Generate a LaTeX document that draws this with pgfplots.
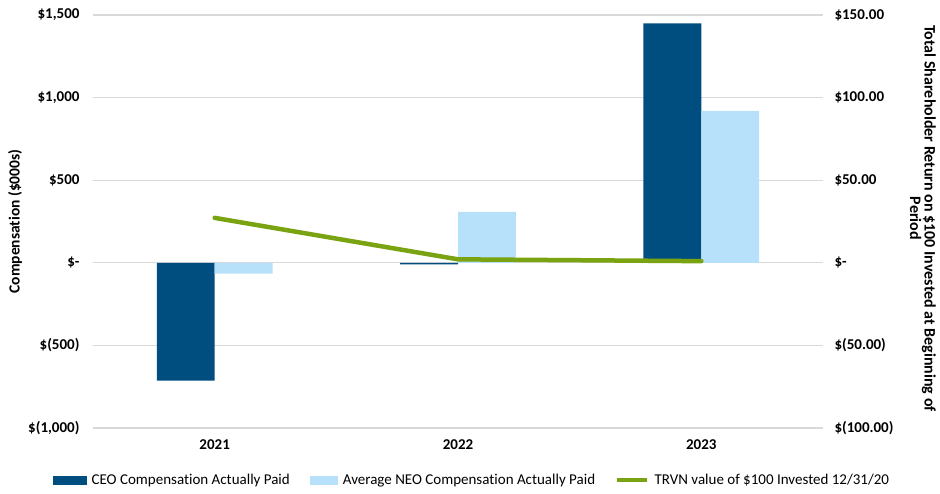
\documentclass[border=0pt]{standalone}
\usepackage{pgfplots}
\pgfplotsset{compat=1.18}
\usepackage{fontspec}
\setmainfont{Carlito}[Ligatures=NoCommon]
\definecolor{ceoblue}{RGB}{0,78,127}
\definecolor{neoblue}{RGB}{183,224,250}
\definecolor{trvngreen}{RGB}{122,163,18}
\definecolor{gridgray}{RGB}{217,217,217}
\begin{document}
\begin{tikzpicture}
\path[use as bounding box] (-93pt,-65pt) rectangle (847pt,428pt);
\begin{axis}[
  at={(0pt,0pt)}, anchor=south west,
  scale only axis, width=730pt, height=413pt,
  xmin=-0.5, xmax=2.5, ymin=-1000, ymax=1500,
  xtick={0,1,2}, xticklabels={2021,2022,2023},
  ytick={-1000,-500,0,500,1000,1500},
  yticklabels={{\$(1,000)},{\$(500)},{\$-},{\$500},{\$1,000},{\$1,500}},
  axis line style={draw=none},
  major tick length=0pt,
  ymajorgrids, grid style={gridgray, line width=1.2pt},
  font=\fontsize{15}{17}\selectfont,
  yticklabel style={font=\fontsize{15}{17}\selectfont\bfseries, anchor=east, xshift=-10pt},
  xticklabel style={font=\fontsize{15}{17}\selectfont\bfseries, yshift=-8pt},
  ylabel={Compensation (\$000s)},
  every axis y label/.style={at={([xshift=-78pt]axis description cs:0,0.5)}, anchor=center, rotate=90,
    font=\fontsize{15.5}{17}\selectfont\bfseries},
  legend columns=3,
  legend style={draw=none, at={(0.519,-0.126)}, anchor=center,
    font=\fontsize{15}{17}\selectfont, nodes={inner sep=2pt},
    /tikz/every odd column/.append style={column sep=3pt},
    /tikz/every even column/.append style={column sep=18pt}},
  legend cell align=left,
]
\addplot[ybar, bar width=0.238, bar shift=-0.119, fill=ceoblue, draw=none,
  legend image code/.code={\fill[ceoblue] (0pt,-4.5pt) rectangle (34pt,4.5pt);}]
  coordinates {(0,-713) (1,-10) (2,1450)};
\addlegendentry{CEO Compensation Actually Paid}
\addplot[ybar, bar width=0.238, bar shift=0.119, fill=neoblue, draw=none,
  legend image code/.code={\fill[neoblue] (0pt,-4.5pt) rectangle (28pt,4.5pt);}]
  coordinates {(0,-66) (1,308) (2,920)};
\addlegendentry{Average NEO Compensation Actually Paid}
\addlegendimage{trvngreen, line width=4.5pt, legend image code/.code={\draw[trvngreen, line width=4.5pt] (0pt,0pt) -- (30pt,0pt);}}
\addlegendentry{TRVN value of \$100 Invested 12/31/20}
\end{axis}
\begin{axis}[
  at={(0pt,0pt)}, anchor=south west,
  scale only axis, width=730pt, height=413pt,
  xmin=-0.5, xmax=2.5, ymin=-100, ymax=150,
  hide x axis,
  axis y line*=right,
  axis line style={draw=none},
  major tick length=0pt,
  ytick={-100,-50,0,50,100,150},
  yticklabels={{\$(100.00)},{\$(50.00)},{\$-},{\$50.00},{\$100.00},{\$150.00}},
  yticklabel style={font=\fontsize{15}{17}\selectfont\bfseries, anchor=west, xshift=8pt},
  ylabel={Total Shareholder Return on \$100 Invested at Beginning of\\Period},
  every axis y label/.style={at={([xshift=100pt,yshift=3pt]axis description cs:1,0.5)}, anchor=center, rotate=-90,
    align=center, font=\fontsize{16}{14.5}\selectfont\bfseries},
]
\addplot[trvngreen, line width=4.5pt, mark=none, line cap=round]
  coordinates {(0,27.2) (1,2.1) (2,1.0)};
\end{axis}
\end{tikzpicture}
\end{document}
